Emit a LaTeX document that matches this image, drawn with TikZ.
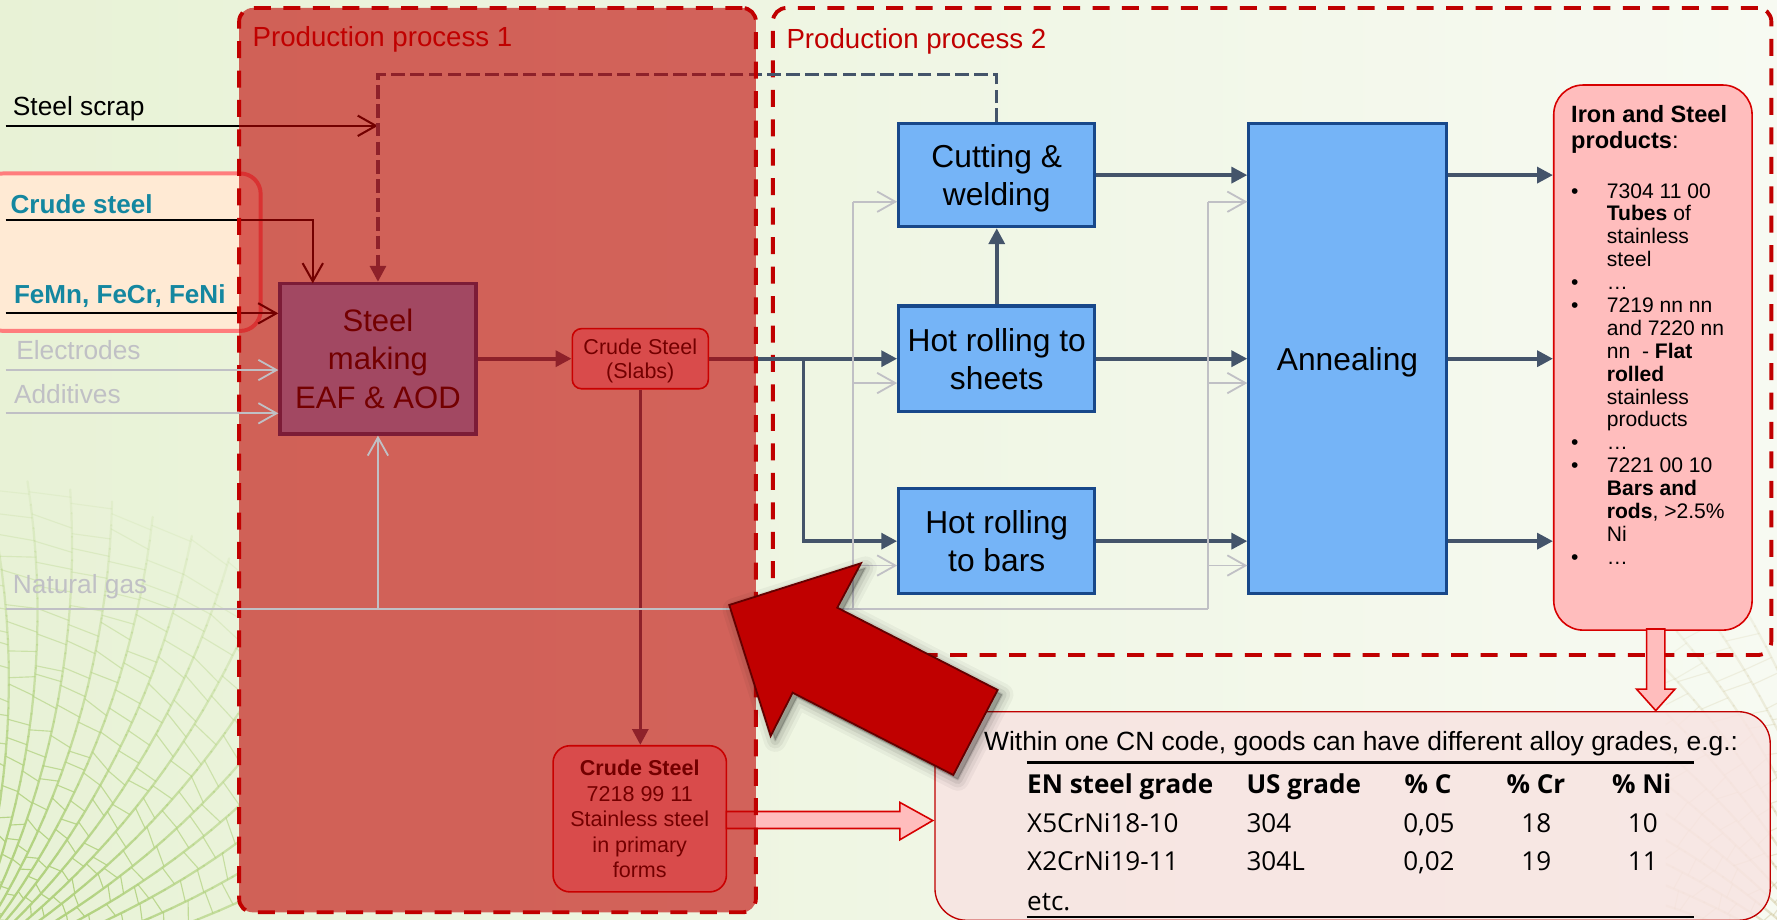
\documentclass[tikz,border=0pt]{standalone}
\usepackage{fontspec}
\setmainfont{Liberation Sans}
\newfontfamily\tabfont{Open Sans}
\usetikzlibrary{arrows.meta,fit,calc}

\definecolor{bgL}{RGB}{232,242,214}
\definecolor{bgR}{RGB}{247,250,242}
\definecolor{pred}{RGB}{192,0,0}
\definecolor{hlfill}{RGB}{255,234,212}
\definecolor{hlline}{RGB}{255,125,125}
\definecolor{bfill}{RGB}{117,180,247}
\definecolor{bline}{RGB}{24,72,138}
\definecolor{flow}{RGB}{68,84,106}
\definecolor{pfill}{RGB}{255,189,189}
\definecolor{pline}{RGB}{215,0,0}
\definecolor{cnfill}{RGB}{248,228,226}
\definecolor{tealtxt}{RGB}{20,135,160}
\definecolor{gasgray}{RGB}{192,192,197}
\definecolor{arrowedge}{RGB}{100,0,0}
\definecolor{veingreen}{RGB}{178,210,128}
\definecolor{veinbeige}{RGB}{200,188,140}

\tikzset{
  box/.style={draw=bline, line width=1.4pt, fill=bfill, inner sep=0pt, align=center,
    text depth=0pt, minimum width=86.5pt, font=\fontsize{14}{16.9}\selectfont},
  pinkbox/.style={draw=pline, line width=0.7pt, fill=pfill, inner sep=0pt, align=center,
    text depth=0pt},
  flowline/.style={draw=flow, line width=1.6pt, -{Triangle[length=7pt,width=7pt]}},
  inline/.style={draw=black, line width=0.9pt, -{Straight Barb[length=8pt,width=9pt]}},
  gas/.style={draw=gasgray, line width=0.8pt},
  gasarrow/.style={gas, -{Straight Barb[length=8pt,width=9pt]}},
  procborder/.style={draw=pred, line width=1.7pt, dash pattern=on 7.5pt off 5.5pt, rounded corners=6pt},
  plabel/.style={anchor=base west, inner sep=0pt, text=pred, font=\fontsize{12.2}{14}\selectfont},
  lbl/.style={anchor=base west, inner sep=0pt, font=\fontsize{11.6}{13}\selectfont},
  lblb/.style={anchor=base west, inner sep=0pt, text=tealtxt, font=\fontsize{11.5}{13}\selectfont\bfseries},
  pl/.style={anchor=base west, inner sep=0pt, font=\fontsize{9.3}{10.1}\selectfont},
  tb/.style={anchor=base west, inner sep=0pt, font=\fontsize{11.5}{13}\selectfont\tabfont},
  tbh/.style={anchor=base west, inner sep=0pt, font=\fontsize{11.5}{13}\selectfont\tabfont\bfseries},
  blockarrow/.style={draw=pline, line width=0.7pt, fill=pfill},
  bigarrow/.style={insert path={(643.5,533.8) -- (759.7,497) -- (738.8,536.2) -- (880.3,608.8)
      -- (841.2,683.8) -- (699.4,611.2) -- (680,649.4) -- cycle}},
}

% leaf vein network: #1,#2 origin, #3 first angle, #4 angle step, #5 colour, #6 peak opacity
\newcommand\leafveins[6]{%
  \foreach \k in {0,...,17} {
    \foreach \r in {0,20,...,420} {
      \pgfmathsetmacro{\op}{min(1,#6*(1-\r/470))}
      \pgfmathsetmacro{\aa}{#3+#4*\k+0.04*\r}
      \pgfmathsetmacro{\ab}{#3+#4*\k+0.04*(\r+20)}
      \pgfmathsetmacro{\sa}{\r+10+6*rand}
      \pgfmathsetmacro{\ca}{#3+#4*\k+0.04*\sa}
      \pgfmathsetmacro{\sb}{\sa+6*rand}
      \pgfmathsetmacro{\cb}{#3+#4*(\k+1)+0.04*\sb}
      \draw[#5, opacity=\op, line width=1pt, line cap=round]
        ({#1+\r*cos(\aa)},{#2-\r*sin(\aa)}) -- ({#1+(\r+20)*cos(\ab)},{#2-(\r+20)*sin(\ab)});
      \draw[#5, opacity=\op, line width=0.5pt, line cap=round]
        ({#1+\sa*cos(\ca)},{#2-\sa*sin(\ca)}) -- ({#1+\sb*cos(\cb)},{#2-\sb*sin(\cb)});
    }
  }}

\begin{document}
\begin{tikzpicture}[x=0.5pt,y=-0.5pt]
\useasboundingbox (0,0) rectangle (1568,811);
\clip (0,0) rectangle (1568,811);
\shade[left color=bgL, right color=bgR] (0,0) rectangle (1568,811);

% ---- background leaf texture
\pgfmathsetseed{11}
\begin{scope}
  \clip (0,380) rectangle (211,811);
  \leafveins{-40}{860}{4}{5}{veingreen}{1.3}
\end{scope}
\begin{scope}
  \clip (1470,540) rectangle (1568,811);
  \leafveins{1640}{880}{92}{5}{veinbeige}{0.5}
\end{scope}

% ---- frame of the second production stage
\node[fit={(682,7) (1563,578)}, inner sep=0pt, procborder] (p2) {};
\node[plabel] (p2lbl) at (693.6,42.6) {Production process 2};

% ---- highlighted inputs
\node[fit={(-15,153) (230,292)}, inner sep=0pt, draw=hlline, line width=1.75pt,
      fill=hlfill, rounded corners=9pt] (hl) {};

% ---- input labels
\node[lbl] (lscrap) at (11,101.5) {Steel scrap};
\node[lblb] (lcrude) at (9,188) {Crude steel};
\node[lblb] (lfemn) at (12,268) {FeMn, FeCr, FeNi};
\node[lbl, text=gasgray] (lelec) at (14,317) {Electrodes};
\node[lbl, text=gasgray] (ladd) at (12,356) {Additives};
\node[lbl, text=gasgray] (lgas) at (11,524) {Natural gas};

% ---- stage 1 boxes
\node[box, minimum height=66.5pt, font=\fontsize{13.7}{16.85}\selectfont] (steel)
  at (333.5,316.5) {Steel\\making\\EAF \& AOD};
\node[pinkbox, rounded corners=4pt, minimum width=60pt, minimum height=26.5pt,
      font=\fontsize{9.5}{11}\selectfont] (slabs) at (565,316.5) {Crude Steel\\(Slabs)};
\node[pinkbox, rounded corners=7.5pt, minimum width=76.5pt, minimum height=64.5pt,
      font=\fontsize{9.5}{11.3}\selectfont] (crude) at (564.5,722.5)
  {\textbf{Crude Steel}\\7218 99 11\\Stainless steel\\in primary\\forms};

% ---- stage 2 boxes
\node[box, minimum height=45.5pt] (cut) at (879.5,154.5) {Cutting \&\\welding};
\node[box, minimum height=46.5pt] (sheets) at (879.5,316.5) {Hot rolling to\\sheets};
\node[box, minimum height=46.5pt] (bars) at (879.5,477.5) {Hot rolling\\to bars};
\node[box, minimum width=87pt, minimum height=207.5pt] (anneal) at (1189,316.5) {Annealing};

% ---- products and alloy grade boxes
\node[pinkbox, rounded corners=13pt, fit={(1371,75) (1546,556)}] (prod) {};
\node[draw=pred, line width=0.6pt, fill=cnfill, fill opacity=0.85, rounded corners=14pt,
      inner sep=0pt, fit={(825,628) (1562,812)}] (cn) {};

% ---- input coordinates
\coordinate (scrapin) at (5,111);
\coordinate (crin) at (5,194);
\coordinate (steelin) at (276,250);
\coordinate (femnin) at (5,276.5);
\coordinate (elin) at (5,326.5);
\coordinate (adin) at (5,364.7);
\coordinate (ngin) at (5,537);
\coordinate (ng1) at (333.5,537);
\coordinate (ng2) at (753,537);
\coordinate (ng3) at (1066,537);
\coordinate (jn) at (709,316.5);

% ---- material flows
\draw[inline] (scrapin) -- (scrapin -| steel.north);
\draw[inline] (crin) -| (steelin);
\draw[inline] (femnin) -- (femnin -| steel.west);
\draw[flowline] (steel.east) -- (slabs.west);
\draw[flowline] (slabs.east) -- (sheets.west);
\draw[flowline] (jn) |- (bars.west);
\draw[flowline, line width=1.5pt] (slabs.south) -- (slabs.south |- crude.north);
\draw[flowline, line width=1.5pt, dash pattern=on 6pt off 2.3pt]
  (cut.north) -- ++(0,-42) -| (steel.north);
\draw[flowline] (sheets.north) -- (cut.south);
\draw[flowline] (cut.east) -- (cut.east -| anneal.west);
\draw[flowline] (sheets.east) -- (sheets.east -| anneal.west);
\draw[flowline] (bars.east) -- (bars.east -| anneal.west);
\foreach \b in {cut,sheets,bars}
  \draw[flowline] (anneal.east |- \b.east) -- (prod.west |- \b.east);

% ---- block arrow from primary forms to the grade table
\draw[blockarrow] (641,716) -- (794,716) -- (794,708) -- (823,724) -- (794,741)
  -- (794,731) -- (641,731) -- cycle;

% ---- stage 1 tinted frame
\node[fit={(211,7) (667,805)}, inner sep=0pt, procborder, fill=pred, fill opacity=0.6] (p1) {};
\node[plabel] (p1lbl) at (222.5,41) {Production process 1};

% ---- energy and auxiliary inputs
\draw[gasarrow] (elin) -- (elin -| steel.west);
\draw[gasarrow] (adin) -- (adin -| steel.west);
\draw[gas] (ngin) -- (ng3);
\draw[gasarrow] (ng1) -- (steel.south);
\draw[gas] (ng2) -- (753,178);
\draw[gas] (ng3) -- (1066,178);
\foreach \y/\n in {178/cut,338/sheets,499/bars} {
  \draw[gasarrow] (753,\y) -- (\n.west |- 0,\y);
  \draw[gasarrow] (1066,\y) -- (anneal.west |- 0,\y);
}

% ---- products list
\draw[blockarrow] (1453,555) -- (1469,555) -- (1469,608) -- (1478,608) -- (1461,627)
  -- (1444,608) -- (1453,608) -- cycle;
\node[pl, font=\fontsize{10.4}{11.2}\selectfont\bfseries] (pt1) at (1386,108.5) {Iron and Steel};
\node[pl, font=\fontsize{10.4}{11.2}\selectfont] (pt2) at (1386,130.9) {\textbf{products}:};
\foreach \i in {0,4,5,11,12,16}
  \node[pl] (bul\i) at (1386,174.7+20.2*\i) {•};
\foreach \t [count=\i from 0] in {
  {7304 11 00}, {\textbf{Tubes} of}, {stainless}, {steel}, {…},
  {7219 nn nn}, {and 7220 nn}, {nn~ - \textbf{Flat}}, {\textbf{rolled}}, {stainless},
  {products}, {…}, {7221 00 10}, {\textbf{Bars and}}, {\textbf{rods}, >2.5\%}, {Ni}, {…}}
  \node[pl] (pli\i) at (1417.5,174.7+20.2*\i) {\t};

% ---- alloy grade table
\node[anchor=base west, inner sep=0pt, font=\fontsize{11.65}{13}\selectfont] (cnhead)
  at (868,662) {Within one CN code, goods can have different alloy grades, e.g.:};
\draw[line width=1.1pt] (906,673) coordinate (rl) -- (1495,673) coordinate (rr);
\draw[line width=1.1pt] (906,809) coordinate (bl) -- (1495,809) coordinate (br);
\node[tbh] (h1) at (906,700) {EN steel grade};
\node[tbh] (h2) at (1099.5,700) {US grade};
\node[tbh] (h3) at (1239,700) {\% C};
\node[tbh] (h4) at (1329,700) {\% Cr};
\node[tbh] (h5) at (1422,700) {\% Ni};
\node[tb] (a1) at (906,734.7) {X5CrNi18-10};
\node[tb] (a2) at (1099.5,734.7) {304};
\node[tb] (a3) at (1238,734.7) {0,05};
\node[tb] (a4) at (1342,734.7) {18};
\node[tb] (a5) at (1436,734.7) {10};
\node[tb] (b1) at (906,768.5) {X2CrNi19-11};
\node[tb] (b2) at (1099.5,768.5) {304L};
\node[tb] (b3) at (1238,768.5) {0,02};
\node[tb] (b4) at (1342,768.5) {19};
\node[tb] (b5) at (1436,768.5) {11};
\node[tb] (etc) at (906,803) {etc.};

% ---- large pointer arrow with soft shadow
\foreach \w/\o in {10/0.04,7/0.05,4/0.07,1/0.10}
  \filldraw[black, opacity=\o, line width=\w pt, line join=round, shift={(4,4)}, bigarrow];
\filldraw[fill=pred, draw=arrowedge, line width=0.8pt, line join=miter, bigarrow];
\end{tikzpicture}
\end{document}
